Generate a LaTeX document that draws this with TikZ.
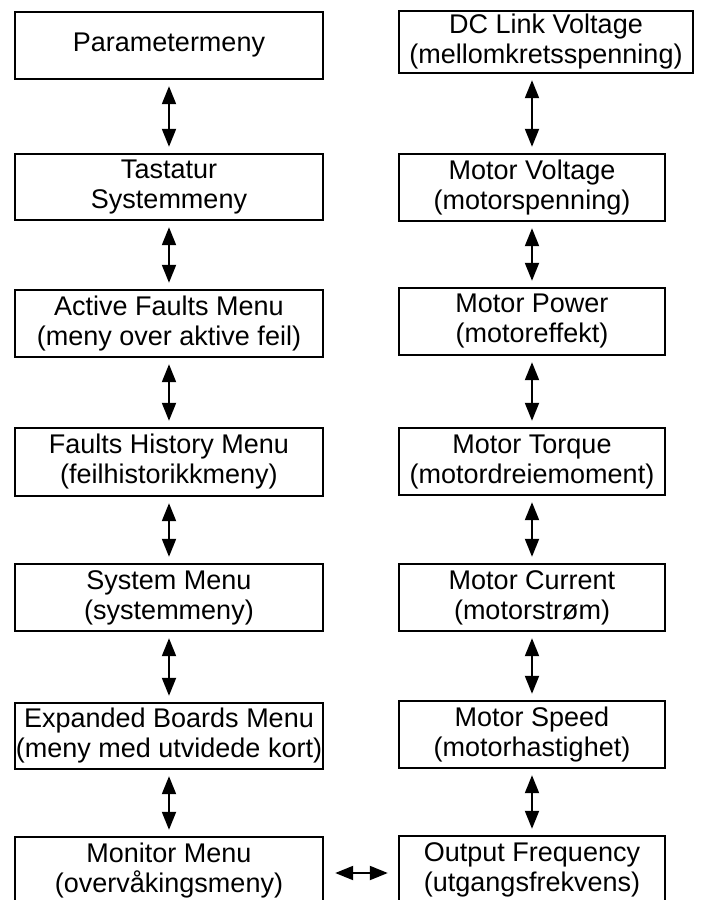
\documentclass[tikz,border=0pt]{standalone}
\usepackage{fontspec}
\setmainfont{Liberation Sans}
\usetikzlibrary{arrows.meta}
\tikzset{
  menubox/.style={draw, line width=2.4pt, inner sep=0pt, align=center,
    minimum height=67pt, font={\fontsize{27}{30}\selectfont}},
  lbox/.style={menubox, minimum width=308pt},
  rbox/.style={menubox, minimum width=266pt},
  biarrow/.style={line width=2pt,
    {Triangle[length=18pt,width=14pt]}-{Triangle[length=18pt,width=14pt]},
    shorten <=6pt, shorten >=6pt}
}
\begin{document}
\begin{tikzpicture}[x=1pt,y=-1pt]
\useasboundingbox (0,0) rectangle (701,900);
\clip (0,0) rectangle (701,900);
\fill[white] (0,0) rectangle (701,900);
% left column
\node[lbox] (l1) at (169,45.5) {Parametermeny};
\node[lbox, minimum height=66pt] (l2) at (169,187) {Tastatur\\Systemmeny};
\node[lbox] (l3) at (169,323.5) {Active Faults Menu\\(meny over aktive feil)};
\node[lbox, minimum height=68pt] (l4) at (169,462) {Faults History Menu\\(feilhistorikkmeny)};
\node[lbox] (l5) at (169,597.5) {System Menu\\(systemmeny)};
\node[lbox, minimum height=66pt] (l6) at (169,736) {Expanded Boards Menu\\(meny med utvidede kort)};
\node[lbox] (l7) at (169,870.5) {Monitor Menu\\(overvåkingsmeny)};
% right column
\node[menubox, minimum width=294pt, minimum height=62pt] (r1) at (546,42) {DC Link Voltage\\(mellomkretsspenning)};
\node[rbox] (r2) at (532,187.5) {Motor Voltage\\(motorspenning)};
\node[rbox] (r3) at (532,321.5) {Motor Power\\(motoreffekt)};
\node[rbox] (r4) at (532,461.5) {Motor Torque\\(motordreiemoment)};
\node[rbox] (r5) at (532,597.5) {Motor Current\\(motorstrøm)};
\node[rbox] (r6) at (532,734.5) {Motor Speed\\(motorhastighet)};
\node[rbox] (r7) at (532,869.5) {Output Frequency\\(utgangsfrekvens)};
% left arrows
\draw[biarrow] (l1.south) -- (l2.north);
\draw[biarrow] (l2.south) -- (l3.north);
\draw[biarrow] (l3.south) -- (l4.north);
\draw[biarrow] (l4.south) -- (l5.north);
\draw[biarrow] (l5.south) -- (l6.north);
\draw[biarrow] (l6.south) -- (l7.north);
% right arrows
\draw[biarrow] (r1.south -| r2.north) -- (r2.north);
\draw[biarrow] (r2.south) -- (r3.north);
\draw[biarrow] (r3.south) -- (r4.north);
\draw[biarrow] (r4.south) -- (r5.north);
\draw[biarrow] (r5.south) -- (r6.north);
\draw[biarrow] (r6.south) -- (r7.north);
% horizontal arrow
\draw[biarrow, shorten <=11pt, shorten >=10pt] ([yshift=-2.5pt]l7.east) -- ([yshift=-3.5pt]r7.west);
\end{tikzpicture}
\end{document}
